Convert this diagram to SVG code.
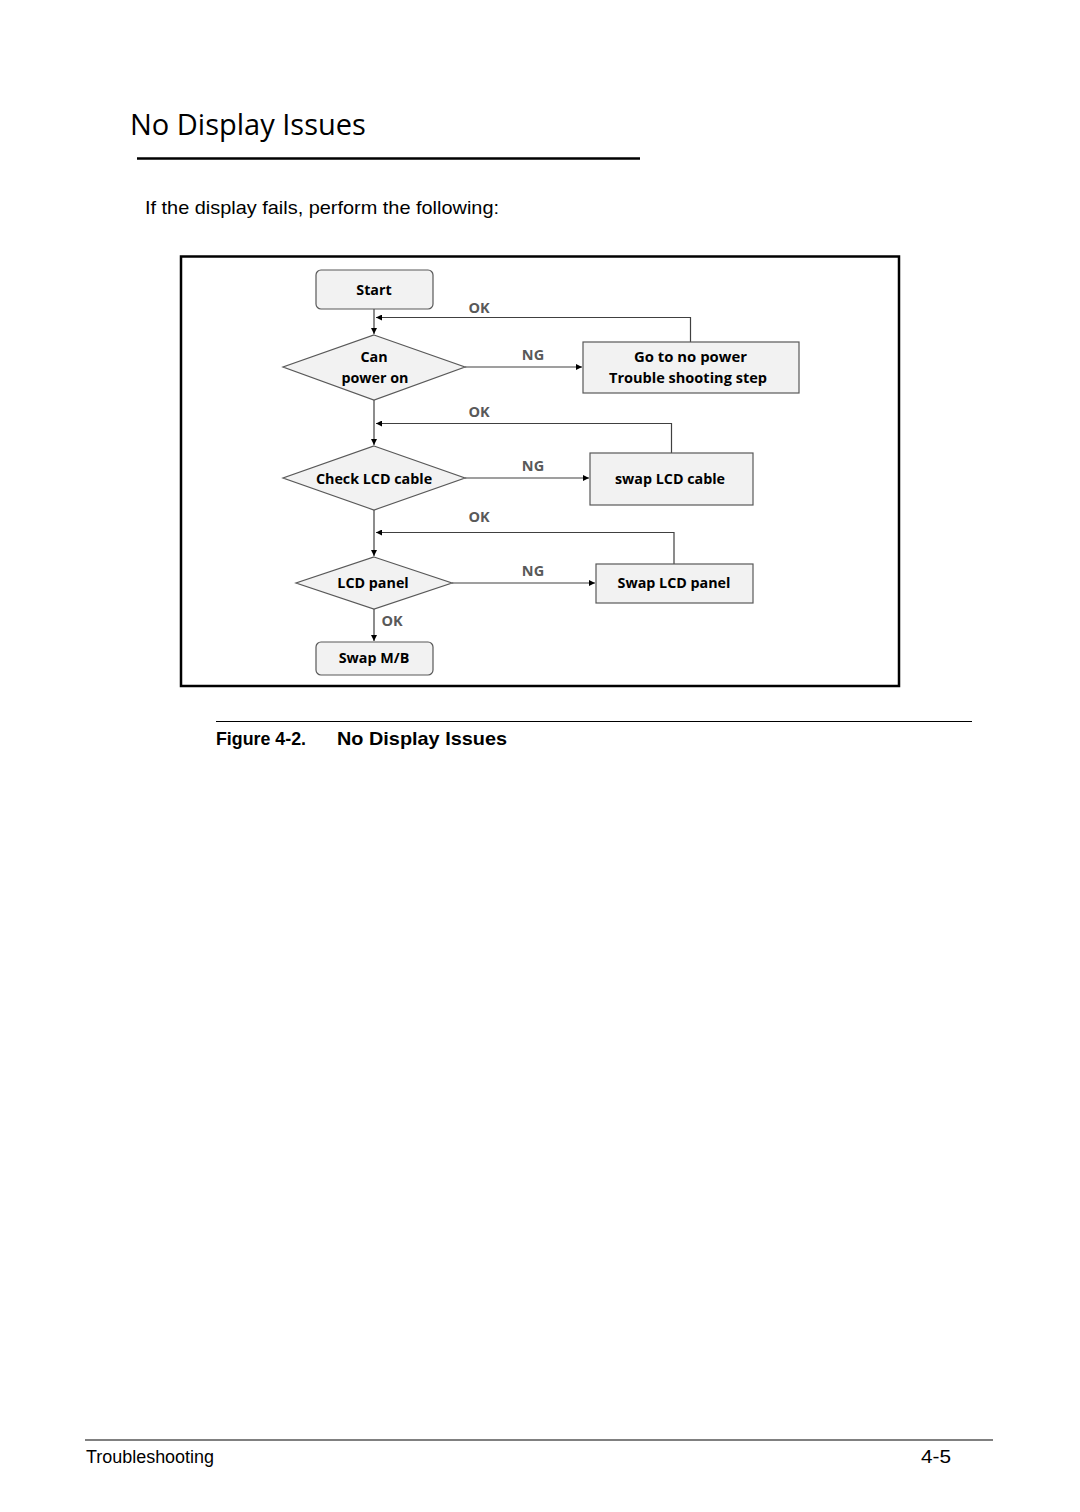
<svg xmlns="http://www.w3.org/2000/svg" width="1080" height="1512" viewBox="0 0 1080 1512">
<style>
.node{fill:#f2f2f2;stroke:#595959;stroke-width:1.2}
.nt{font-family:"Open Sans","Noto Sans",sans-serif;font-weight:bold;font-size:14.3px;fill:#000;text-anchor:middle}
.lbl{font-family:"Open Sans","Noto Sans",sans-serif;font-weight:bold;font-size:14.5px;fill:#595959;text-anchor:middle}
.conn{fill:none;stroke:#404040;stroke-width:1.2}
</style>
<defs>
<marker id="ah" viewBox="0 0 8 8" refX="8" refY="4" markerWidth="6" markerHeight="6" orient="auto" markerUnits="userSpaceOnUse">
<path d="M0,0 L8,4 L0,8 z" fill="#000"/>
</marker>
</defs>
<rect width="1080" height="1512" fill="#fff"/>
<text x="130" y="135" font-family="Open Sans, Noto Sans, sans-serif" font-size="29" fill="#000">No Display Issues</text>
<line x1="137" y1="158.5" x2="640" y2="158.5" stroke="#000" stroke-width="2.5"/>
<text x="145" y="214" font-family="Liberation Sans, Arial, sans-serif" font-size="19" textLength="354" lengthAdjust="spacingAndGlyphs" fill="#000">If the display fails, perform the following:</text>

<rect x="181" y="256.5" width="718" height="429.5" fill="none" stroke="#000" stroke-width="2.5"/>

<g id="connectors">
<path class="conn" d="M374,309 V334" marker-end="url(#ah)"/>
<path class="conn" d="M690.5,342 V317.5 H376" marker-end="url(#ah)"/>
<path class="conn" d="M465,367 H582" marker-end="url(#ah)"/>
<path class="conn" d="M374,400 V445" marker-end="url(#ah)"/>
<path class="conn" d="M671.5,453 V423.5 H376" marker-end="url(#ah)"/>
<path class="conn" d="M465,478 H589" marker-end="url(#ah)"/>
<path class="conn" d="M374,510 V556" marker-end="url(#ah)"/>
<path class="conn" d="M674,564 V532.5 H376" marker-end="url(#ah)"/>
<path class="conn" d="M452,583 H595" marker-end="url(#ah)"/>
<path class="conn" d="M374,609 V641" marker-end="url(#ah)"/>
<text class="lbl" x="479" y="313">OK</text>
<text class="lbl" x="533" y="360">NG</text>
<text class="lbl" x="479" y="417">OK</text>
<text class="lbl" x="533" y="471">NG</text>
<text class="lbl" x="479" y="522">OK</text>
<text class="lbl" x="533" y="576">NG</text>
<text class="lbl" x="392" y="626">OK</text>
</g>

<g id="start">
<rect class="node" x="316" y="270" width="117" height="39" rx="5"/>
<text class="nt" x="374" y="294.5">Start</text>
</g>
<g id="can-power-on">
<polygon class="node" points="374,335 465,367 374,400 283,367"/>
<text class="nt" x="374" y="362">Can</text>
<text class="nt" x="375" y="383">power on</text>
</g>
<g id="no-power">
<rect class="node" x="583" y="342" width="216" height="51"/>
<text class="nt" x="690.5" y="362" textLength="113" lengthAdjust="spacingAndGlyphs">Go to no power</text>
<text class="nt" x="688" y="383" textLength="158" lengthAdjust="spacingAndGlyphs">Trouble shooting step</text>
</g>
<g id="check-lcd-cable">
<polygon class="node" points="374,446 465,478 374,510 283,478"/>
<text class="nt" x="374" y="484">Check LCD cable</text>
</g>
<g id="swap-lcd-cable">
<rect class="node" x="590" y="453" width="163" height="52"/>
<text class="nt" x="670" y="484">swap LCD cable</text>
</g>
<g id="lcd-panel">
<polygon class="node" points="374,557 452,583 374,609 296,583"/>
<text class="nt" x="373" y="588">LCD panel</text>
</g>
<g id="swap-lcd-panel">
<rect class="node" x="596" y="564" width="157" height="39"/>
<text class="nt" x="674" y="588">Swap LCD panel</text>
</g>
<g id="swap-mb">
<rect class="node" x="316" y="642" width="117" height="33" rx="5"/>
<text class="nt" x="374" y="663">Swap M/B</text>
</g>

<line x1="216" y1="721.5" x2="972" y2="721.5" stroke="#000" stroke-width="1"/>
<text x="216" y="745" font-family="Liberation Sans, Arial, sans-serif" font-size="19" font-weight="bold" textLength="90" lengthAdjust="spacingAndGlyphs" fill="#000">Figure 4-2.</text>
<text x="337" y="745" font-family="Liberation Sans, Arial, sans-serif" font-size="19" font-weight="bold" textLength="170" lengthAdjust="spacingAndGlyphs" fill="#000">No Display Issues</text>

<line x1="85" y1="1440" x2="993" y2="1440" stroke="#808080" stroke-width="2"/>
<text x="86" y="1463" font-family="Liberation Sans, Arial, sans-serif" font-size="17.5" textLength="128" lengthAdjust="spacingAndGlyphs" fill="#000">Troubleshooting</text>
<text x="921" y="1463" font-family="Liberation Sans, Arial, sans-serif" font-size="17.5" textLength="30" lengthAdjust="spacingAndGlyphs" fill="#000">4-5</text>
</svg>
